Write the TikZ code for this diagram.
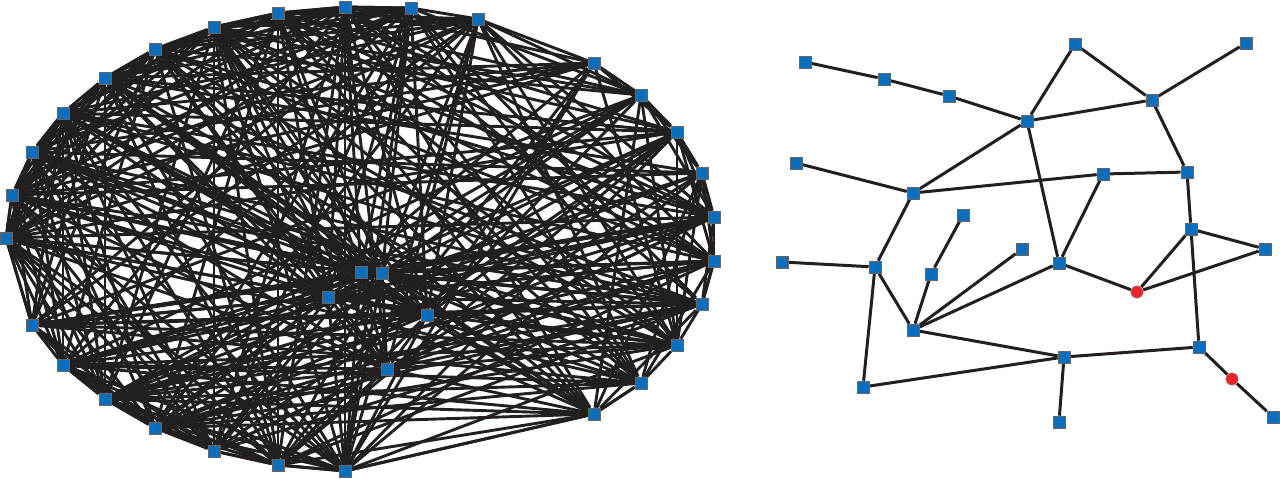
\documentclass[tikz,border=0pt]{standalone}
\usetikzlibrary{backgrounds}
\definecolor{nodeblue}{HTML}{0A6EBD}
\definecolor{nodered}{HTML}{E8232A}
\definecolor{edgeblack}{HTML}{231F20}
\tikzset{
  sq/.style={rectangle,draw=black!60,line width=0.3pt,fill=nodeblue,minimum size=6pt,inner sep=0pt},
  rd/.style={circle,draw=black!40,line width=0.3pt,fill=nodered,minimum size=6.2pt,inner sep=0pt},
  edge/.style={draw=edgeblack,line width=1.5pt},
  edgel/.style={draw=edgeblack,line width=1.45pt},
}
\begin{document}
\begin{tikzpicture}[x=0.5pt,y=-0.5pt]
\useasboundingbox (0,0) rectangle (1280,478);
% ---------------- left dense graph ----------------
\foreach \n/\x/\y in {1/6/238,2/12/195,3/32/152,4/63/113,5/105/78,6/155/49,7/214/27,8/278/13,9/345/7,10/411/8,11/478/19,12/594/63,13/641/95,14/677/132,15/702/173,16/714/217,17/714/261,18/702/304,19/677/345,20/641/383,21/594/414,22/345/471,23/278/465,24/214/451,25/155/428,26/105/399,27/63/365,28/32/325,29/361/272,30/382/273,31/328/297,32/427/315,33/387/369}
  \node[sq] (L\n) at (\x,\y) {};
\def\wts{{0,0.88,0.88,0.88,0.88,0.88,0.88,0.87,0.86,0.86,0.76,0.6,0.56,0.56,0.6,0.66,0.7,0.72,0.74,0.76,0.78,0.8,0.8,0.84,0.86,0.88,0.88,0.88,0.88,1,1,1,0.95,0.78}}
\begin{scope}[on background layer]
\foreach \i in {1,...,32}{
  \pgfmathtruncatemacro{\js}{\i+1}
  \foreach \j in {\js,...,33}{
    \pgfmathtruncatemacro{\r}{int(100*frac(abs(sin(\i*127.1+\j*311.7))*437.585))}
    \pgfmathtruncatemacro{\thr}{int(100*\wts[\i]*\wts[\j])}
    \ifnum\r<\thr\relax \draw[edgel] (L\i) -- (L\j);\fi
  }
}
\foreach \i/\j in {1/2,2/3,3/4,4/5,5/6,6/7,7/8,8/9,9/10,10/11,11/12,12/13,13/14,14/15,15/16,16/17,17/18,18/19,19/20,20/21,21/22,22/23,23/24,24/25,25/26,26/27,27/28,28/1}
  \draw[edgel] (L\i) -- (L\j);
\end{scope}
% ---------------- right sparse graph ----------------
\node[sq] (A) at (805,62) {};
\node[sq] (B) at (884,79) {};
\node[sq] (C) at (949,96) {};
\node[sq] (D) at (1027,121) {};
\node[sq] (E) at (1075,44) {};
\node[sq] (F) at (1246,43) {};
\node[sq] (G) at (1152,100) {};
\node[sq] (H) at (796,163) {};
\node[sq] (I) at (913,193) {};
\node[sq] (J) at (1103,174) {};
\node[sq] (K) at (1187,172) {};
\node[sq] (Lf) at (963,215) {};
\node[sq] (M) at (1191,229) {};
\node[sq] (N) at (782,262) {};
\node[sq] (O) at (875,267) {};
\node[sq] (P) at (931,274) {};
\node[sq] (Q) at (1022,249) {};
\node[sq] (R) at (1059,263) {};
\node[rd] (S) at (1137,292) {};
\node[sq] (T) at (1265,249) {};
\node[sq] (U) at (913,330) {};
\node[sq] (V) at (1064,357) {};
\node[sq] (W) at (1199,347) {};
\node[sq] (X) at (863,387) {};
\node[rd] (Y) at (1232,379) {};
\node[sq] (Z) at (1059,422) {};
\node[sq] (AA) at (1273,417) {};
\begin{scope}[on background layer]
\foreach \a/\b in {A/B,B/C,C/D,D/E,E/G,G/F,D/G,D/I,D/R,H/I,I/J,J/K,G/K,K/M,J/R,I/O,Lf/P,N/O,O/U,O/X,P/U,Q/U,R/U,R/S,S/M,S/T,M/T,M/W,U/V,V/X,V/W,V/Z,W/Y,Y/AA}
  \draw[edge] (\a) -- (\b);
\end{scope}
\end{tikzpicture}
\end{document}
